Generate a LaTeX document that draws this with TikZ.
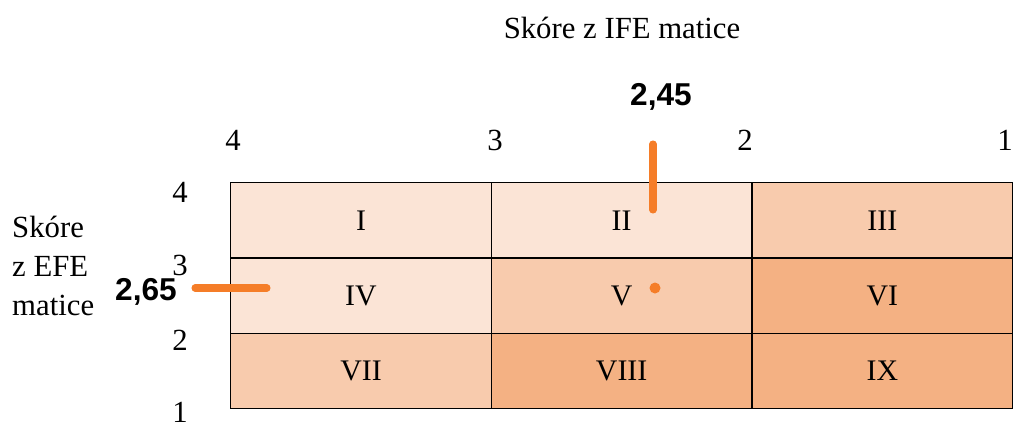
\documentclass[tikz,border=0pt]{standalone}
\usepackage{fontspec}
\setmainfont{Liberation Serif}
\newfontfamily\valfont{Liberation Sans}
\definecolor{lowclr}{HTML}{FBE4D6}
\definecolor{midclr}{HTML}{F8CBAD}
\definecolor{highclr}{HTML}{F4B183}
\definecolor{markclr}{RGB}{245,125,40}
\begin{document}
\begin{tikzpicture}[x=0.02cm, y=-0.02cm]

\useasboundingbox (0,0) rectangle (1013,423);
\tikzset{cell/.style={rectangle, draw=black, thick, minimum height = 1.507cm, minimum width = 5.213cm, anchor=north west, font=\fontsize{17}{21}\selectfont}}
\tikzset{tick/.style={font=\fontsize{17.5}{22}\selectfont}}
\tikzset{scoreline/.style={draw=markclr, line width=4pt, line cap=round}}

%% top row
\node at (230,182) [cell, fill=lowclr] (c1) {I};
\node at (490.67,182) [cell, fill=lowclr] (c2) {II};
\node at (751.33,182) [cell, fill=midclr] (c3) {III};
%% middle row
\node at (230,257.33) [cell, fill=lowclr] (c4) {IV};
\node at (490.67,257.33) [cell, fill=midclr] (c5) {V};
\node at (751.33,257.33) [cell, fill=highclr] (c6) {VI};
%% bottom row
\node at (230,332.67) [cell, fill=midclr] (c7) {VII};
\node at (490.67,332.67) [cell, fill=highclr] (c8) {VIII};
\node at (751.33,332.67) [cell, fill=highclr] (c9) {IX};

%% axis titles
\node at (622,28) [tick] (ife) {Skóre z IFE matice};
\node at (6,266) [tick, anchor=west, align=left] (efe) {Skóre\\z EFE\\matice};

%% top scale
\node at (233,140) [tick] (t4) {4};
\node at (495,140) [tick] (t3) {3};
\node at (745,140) [tick] (t2) {2};
\node at (1005,140) [tick] (t1) {1};

%% left scale
\node at (180,192) [tick] (l4) {4};
\node at (180,265) [tick] (l3) {3};
\node at (180,340) [tick] (l2) {2};
\node at (180,412) [tick] (l1) {1};

%% scores
\node at (661,97) [font=\valfont\bfseries\fontsize{18}{20}\selectfont] (ifeval) {2,45};
\node at (146,292) [font=\valfont\bfseries\fontsize{18}{20}\selectfont] (efeval) {2,65};
\coordinate (ifetop) at (653,144);
\coordinate (ifebot) at (653,210);
\coordinate (efeleft) at (195,288);
\coordinate (eferight) at (267,288);
\draw [scoreline] (ifetop) -- (ifebot);
\draw [scoreline] (efeleft) -- (eferight);
\fill [markclr] (655,288) circle (0.11cm);

\end{tikzpicture}
\end{document}
